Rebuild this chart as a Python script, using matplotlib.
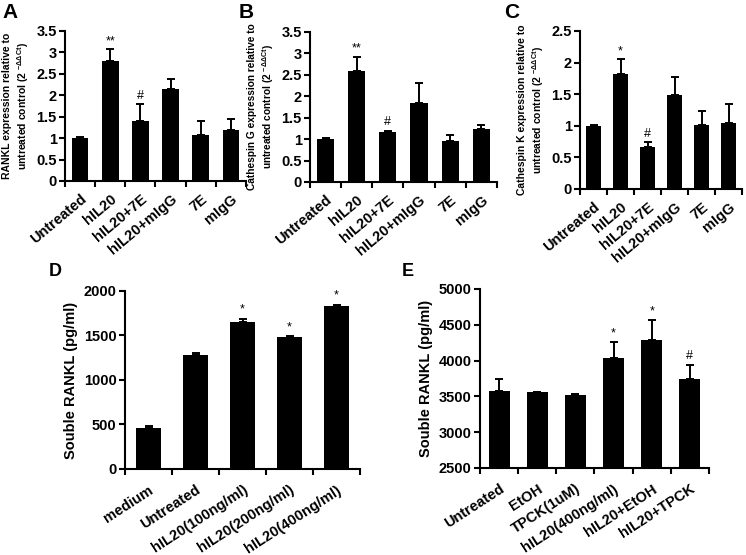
import matplotlib
matplotlib.use("Agg")
import matplotlib.pyplot as plt
import numpy as np

plt.rcParams['font.family'] = ['Liberation Sans', 'DejaVu Sans']

# ---- data ----
qpcr_groups = ['Untreated', 'hIL20', 'hIL20+7E', 'hIL20+mIgG', '7E', 'mIgG']

rankl_mean = [1.0, 2.80, 1.41, 2.14, 1.07, 1.19]
rankl_err = [0.02, 0.27, 0.38, 0.23, 0.34, 0.25]
rankl_marks = ['', '**', '#', '', '', '']

catg_mean = [1.0, 2.60, 1.16, 1.84, 0.95, 1.24]
catg_err = [0.02, 0.32, 0.04, 0.47, 0.14, 0.09]
catg_marks = ['', '**', '#', '', '', '']

catk_mean = [1.0, 1.82, 0.67, 1.49, 1.01, 1.04]
catk_err = [0.01, 0.23, 0.07, 0.28, 0.23, 0.30]
catk_marks = ['', '*', '#', '', '', '']

dose_groups = ['medium', 'Untreated', 'hIL20(100ng/ml)', 'hIL20(200ng/ml)', 'hIL20(400ng/ml)']
dose_mean = [466, 1280, 1653, 1483, 1828]
dose_err = [15, 18, 37, 10, 19]
dose_marks = ['', '', '*', '*', '*']

tpck_groups = ['Untreated', 'EtOH', 'TPCK(1uM)', 'hIL20(400ng/ml)', 'hIL20+EtOH', 'hIL20+TPCK']
tpck_mean = [3571, 3562, 3524, 4032, 4283, 3743]
tpck_err = [177, 5, 4, 228, 289, 196]
tpck_marks = ['', '', '', '*', '*', '#']


def bar_panel(ax, labels, mean, err, marks, ylim, yticks, ytlabels, ylabel, ylsize,
              letter, lpos, lsize, xpad, rot):
    x = np.arange(len(labels))
    ax.bar(x, mean, width=0.55, color='black')
    ax.errorbar(x, mean, yerr=[np.zeros(len(err)), err], fmt='none',
                ecolor='black', elinewidth=1.4, capsize=3, capthick=1.4)
    span = ylim[1] - ylim[0]
    for xi, m, e, s in zip(x, mean, err, marks):
        if s:
            ax.text(xi, m + e + span * 0.015, s, ha='center', va='bottom', fontsize=9)
    ax.set_xlim(-0.5, len(labels) - 0.5)
    ax.set_ylim(*ylim)
    ax.set_yticks(yticks)
    ax.set_yticklabels(ytlabels, fontsize=10.5, fontweight='bold')
    ax.set_xticks(x)
    ax.set_xticklabels(labels, rotation=rot, ha='right', rotation_mode='anchor',
                       fontsize=10.5, fontweight='bold')
    ax.set_xticks(np.arange(len(labels) + 1) - 0.5, minor=True)
    ax.tick_params(axis='x', which='major', length=0, pad=xpad)
    ax.tick_params(axis='x', which='minor', length=4, width=1.5, direction='out')
    ax.tick_params(axis='y', length=4, width=1.5, direction='out', pad=2)
    for side in ['top', 'right']:
        ax.spines[side].set_visible(False)
    for side in ['left', 'bottom']:
        ax.spines[side].set_linewidth(1.5)
    ax.set_ylabel(ylabel, fontsize=ylsize, fontweight='bold', labelpad=4)
    fig.text(lpos[0], lpos[1], letter, fontsize=lsize, fontweight='bold', va='top', ha='left')


fig = plt.figure(figsize=(7.46, 5.55), dpi=100)

ax_a = fig.add_axes([0.0871, 0.6739, 0.2426, 0.2703])
ax_b = fig.add_axes([0.4155, 0.6721, 0.2507, 0.2703])
ax_c = fig.add_axes([0.7775, 0.6595, 0.2172, 0.2847])
ax_d = fig.add_axes([0.1676, 0.1550, 0.3150, 0.3207])
ax_e = fig.add_axes([0.6434, 0.1568, 0.3070, 0.3225])

sup = r'$^{\mathregular{-ΔΔCt}}$'
t35 = np.arange(0, 3.51, 0.5)
t25 = np.arange(0, 2.51, 0.5)
fmt = lambda v: ('%g' % v)

bar_panel(ax_a, qpcr_groups, rankl_mean, rankl_err, rankl_marks, (0, 3.5), t35,
          [fmt(v) for v in t35],
          'RANKL expression relative to\nuntreated control (2 ' + sup + ')', 7.5,
          'A', (0.003, 0.995), 15, 8, 40)
bar_panel(ax_b, qpcr_groups, catg_mean, catg_err, catg_marks, (0, 3.5), t35,
          [fmt(v) for v in t35],
          'Cathespin G expression relative to\nuntreated control (2 ' + sup + ')', 7.3,
          'B', (0.320, 0.995), 15, 8, 40)
bar_panel(ax_c, qpcr_groups, catk_mean, catk_err, catk_marks, (0, 2.5), t25,
          [fmt(v) for v in t25],
          'Cathespin K expression relative to\nuntreated control (2 ' + sup + ')', 7.5,
          'C', (0.676, 0.995), 15, 8, 40)
bar_panel(ax_d, dose_groups, dose_mean, dose_err, dose_marks, (0, 2000),
          [0, 500, 1000, 1500, 2000], ['0', '500', '1000', '1500', '2000'],
          'Souble RANKL (pg/ml)', 10.5, 'D', (0.066, 0.527), 13, 10, 33)
bar_panel(ax_e, tpck_groups, tpck_mean, tpck_err, tpck_marks, (2500, 5000),
          [2500, 3000, 3500, 4000, 4500, 5000],
          ['2500', '3000', '3500', '4000', '4500', '5000'],
          'Souble RANKL (pg/ml)', 10.5, 'E', (0.538, 0.527), 13, 10, 33)

fig.savefig('out.png', dpi=100)
